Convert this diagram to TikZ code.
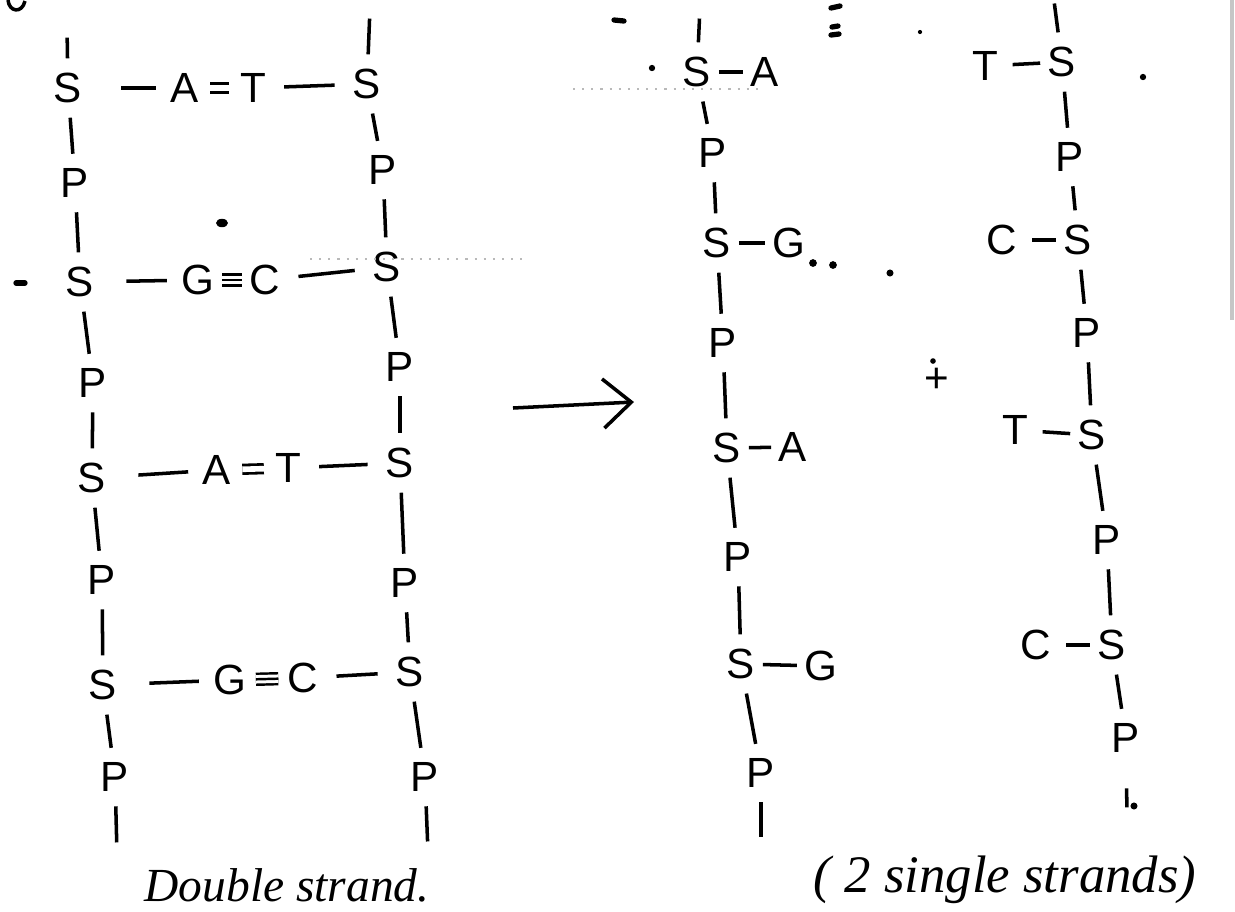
\documentclass[tikz,border=0pt]{standalone}
\usepackage{fontspec}
\setmainfont{Liberation Sans}
\newfontfamily\capfont{Liberation Serif}
\usetikzlibrary{arrows.meta}

\tikzset{
  base/.style={font=\fontsize{12}{14}\selectfont, inner sep=1pt},
  bar/.style={line width=1pt, shorten <=3pt, shorten >=3pt},
  bond/.style={line width=1pt, shorten <=4pt, shorten >=4pt},
  sbond/.style={line width=1pt, shorten <=1pt, shorten >=1pt},
  hbtwo/.style={double, line width=0.8pt, double distance=1.6pt, shorten <=2pt, shorten >=2pt},
  hbthree/.style={double, line width=0.7pt, double distance=2.4pt, shorten <=1pt, shorten >=1pt},
  hbone/.style={line width=0.7pt, shorten <=1pt, shorten >=1pt},
  speck/.style={line width=1.5pt, line cap=round},
  scan/.style={gray!55, dotted, line width=0.6pt},
  caption/.style={font=\capfont\itshape\fontsize{13.5}{16}\selectfont, inner sep=0pt}
}

\begin{document}
\begin{tikzpicture}[x=0.01cm, y=-0.01cm]
\useasboundingbox (0,0) rectangle (1235,911);
% double strand: left backbone
\coordinate (topl) at (67,27);
\coordinate (botl) at (117,853);
\node[base] (sl1) at (68,88) {S};
\node[base] (pl1) at (75,183) {P};
\node[base] (sl2) at (80,282) {S};
\node[base] (pl2) at (93,383) {P};
\node[base] (sl3) at (92,478) {S};
\node[base] (pl3) at (102,580) {P};
\node[base] (sl4) at (103,685) {S};
\node[base] (pl4) at (115,777) {P};
% double strand: right backbone
\coordinate (topr) at (370,8);
\coordinate (botr) at (428,852);
\node[base] (sr1) at (367,84) {S};
\node[base] (pr1) at (383,170) {P};
\node[base] (sr2) at (387,267) {S};
\node[base] (pr2) at (400,367) {P};
\node[base] (sr3) at (400,463) {S};
\node[base] (pr3) at (405,583) {P};
\node[base] (sr4) at (410,672) {S};
\node[base] (pr4) at (425,777) {P};
% base pairs
\node[base] (a1) at (185,88) {A};
\node[base] (t1) at (253,88) {T};
\node[base] (g2) at (198,280) {G};
\node[base] (c2) at (265,280) {C};
\node[base] (a3) at (217,470) {A};
\node[base] (t3) at (288,468) {T};
\node[base] (g4) at (230,680) {G};
\node[base] (c4) at (303,678) {C};

\draw[bar] (topl) -- (sl1);
\draw[bar] (sl1) -- (pl1);
\draw[bar] (pl1) -- (sl2);
\draw[bar] (sl2) -- (pl2);
\draw[bar] (pl2) -- (sl3);
\draw[bar] (sl3) -- (pl3);
\draw[bar] (pl3) -- (sl4);
\draw[bar] (sl4) -- (pl4);
\draw[bar] (pl4) -- (botl);
\draw[bar] (topr) -- (sr1);
\draw[bar] (sr1) -- (pr1);
\draw[bar] (pr1) -- (sr2);
\draw[bar] (sr2) -- (pr2);
\draw[bar] (pr2) -- (sr3);
\draw[bar] (sr3) -- (pr3);
\draw[bar] (pr3) -- (sr4);
\draw[bar] (sr4) -- (pr4);
\draw[bar] (pr4) -- (botr);

\draw[bond, shorten <=10pt, shorten >=3pt] (sl1) -- (a1);
\draw[hbtwo] (a1) -- (t1); % A=T
\draw[bond] (t1) -- (sr1);
\draw[bond, shorten <=8pt, shorten >=3pt] (sl2) -- (g2);
\draw[hbthree] (g2) -- (c2); % G triple C
\draw[hbone] (g2) -- (c2);
\draw[bond] (c2) -- (sr2);
\draw[bond, shorten <=8pt, shorten >=3pt] (sl3) -- (a3);
\draw[hbtwo] (a3) -- (t3);
\draw[bond] (t3) -- (sr3);
\draw[bond, shorten <=8pt, shorten >=3pt] (sl4) -- (g4);
\draw[hbthree, shorten <=1.5pt, shorten >=1.5pt] (g4) -- (c4);
\draw[hbone, shorten <=1.5pt, shorten >=1.5pt] (g4) -- (c4);
\draw[bond] (c4) -- (sr4);

% arrow
\coordinate (arrfrom) at (513,408);
\coordinate (arrto) at (634,402);
\draw[line width=1pt, -{Straight Barb[length=8pt,width=14pt]}] (arrfrom) -- (arrto);

% first single strand
\coordinate (topa) at (700,8);
\coordinate (bota) at (761,848);
\node[base] (sa1) at (697,72) {S};
\node[base] (pa1) at (713,153) {P};
\node[base] (sa2) at (717,243) {S};
\node[base] (pa2) at (723,343) {P};
\node[base] (sa3) at (727,448) {S};
\node[base] (pa3) at (738,557) {P};
\node[base] (sa4) at (741,664) {S};
\node[base] (pa4) at (761,773) {P};
\node[base] (ba1) at (765,72) {A};
\node[base] (bg2) at (789,243) {G};
\node[base] (ba3) at (793,447) {A};
\node[base] (bg4) at (821,666) {G};
\draw[bar] (topa) -- (sa1);
\draw[bar] (sa1) -- (pa1);
\draw[bar] (pa1) -- (sa2);
\draw[bar] (sa2) -- (pa2);
\draw[bar] (pa2) -- (sa3);
\draw[bar] (sa3) -- (pa3);
\draw[bar] (pa3) -- (sa4);
\draw[bar] (sa4) -- (pa4);
\draw[bar] (pa4) -- (bota);
\draw[sbond] (sa1) -- (ba1);
\draw[sbond] (sa2) -- (bg2);
\draw[sbond] (sa3) -- (ba3);
\draw[sbond] (sa4) -- (bg4);

\node[base] (plus) at (937,380) {+};

% second single strand
\coordinate (topb) at (1053,-7);
\coordinate (botb) at (1127,818);
\node[base] (sb1) at (1062,62) {S};
\node[base] (pb1) at (1070,157) {P};
\node[base] (sb2) at (1078,240) {S};
\node[base] (pb2) at (1087,333) {P};
\node[base] (sb3) at (1092,435) {S};
\node[base] (pb3) at (1107,540) {P};
\node[base] (sb4) at (1112,645) {S};
\node[base] (pb4) at (1126,738) {P};
\node[base] (bt1) at (985,66) {T};
\node[base] (bc2) at (1002,240) {C};
\node[base] (bt3) at (1015,430) {T};
\node[base] (bc4) at (1036,645) {C};
\draw[bar] (topb) -- (sb1);
\draw[bar] (sb1) -- (pb1);
\draw[bar] (pb1) -- (sb2);
\draw[bar] (sb2) -- (pb2);
\draw[bar] (pb2) -- (sb3);
\draw[bar] (sb3) -- (pb3);
\draw[bar] (pb3) -- (sb4);
\draw[bar] (sb4) -- (pb4);
\draw[bar, shorten <=9pt] (pb4) -- (botb);
\draw[sbond, shorten <=3pt] (bt1) -- (sb1);
\draw[sbond, shorten <=3pt] (bc2) -- (sb2);
\draw[sbond, shorten <=3pt] (bt3) -- (sb3);
\draw[sbond, shorten <=3pt] (bc4) -- (sb4);

% stray marks of the scan
\draw[scan] (573,89) -- (763,89);
\draw[scan] (310,259) -- (525,259);
\draw[gray!45, line width=1.4pt] (1232,0) -- (1232,320);
\draw[line width=1pt] (8,0) .. controls (9,12) and (22,14) .. (25,1);
\draw[speck] (16,283) -- (25,283);
\draw[speck] (614,20) -- (624,21);
\draw[speck] (831,8) -- (840,6);
\draw[speck] (832,27) -- (838,26);
\draw[speck] (831,35) -- (839,34);
\fill (222,223) ellipse (1.7pt and 1.2pt);
\fill (652,68) circle (0.9pt);
\fill (813,263) circle (1.1pt);
\fill (833,265) circle (1.1pt);
\fill (890,273) circle (1pt);
\fill (920,32) circle (0.6pt);
\fill (1143,77) circle (0.9pt);
\fill (933,361) circle (0.8pt);
\fill (1134,806) circle (1pt);

\node[caption] (capd) at (287,885) {Double strand.};
\node[caption, font=\capfont\itshape\fontsize{15}{17}\selectfont] (caps) at (1005,880) {( 2 single strands)};
\end{tikzpicture}
\end{document}
